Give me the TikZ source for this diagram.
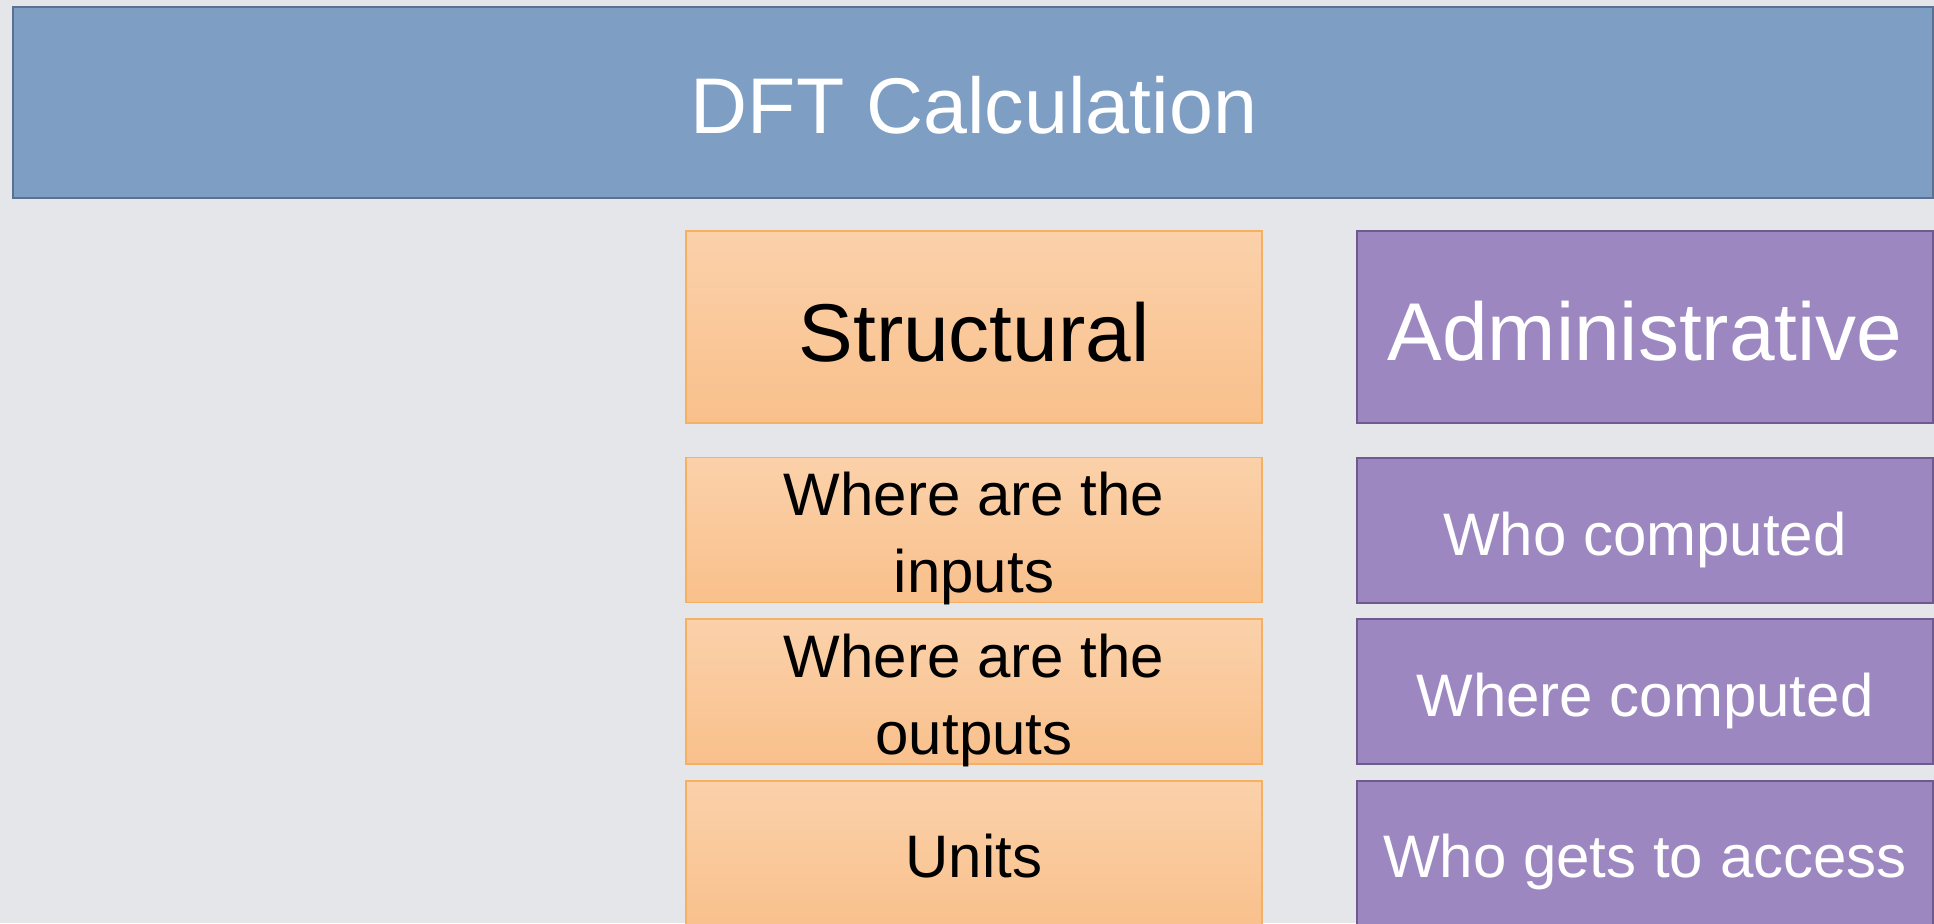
\documentclass[tikz,border=0pt]{standalone}
\usepackage{fontspec}
\setmainfont{Liberation Sans}
\definecolor{pagebg}{HTML}{E4E6EA}
\definecolor{headfill}{HTML}{7F9EC3}
\definecolor{headline}{HTML}{5B7192}
\definecolor{orangetop}{HTML}{FBD1AA}
\definecolor{orangebot}{HTML}{F9C08B}
\definecolor{orangeline}{HTML}{F5B064}
\definecolor{purplefill}{HTML}{9D87C0}
\definecolor{purpleline}{HTML}{6E5A8F}
\tikzset{
  headbox/.style={draw=headline, line width=2pt, fill=headfill, inner sep=0pt},
  structbox/.style={draw=orangeline, line width=1.2pt, top color=orangetop, bottom color=orangebot, inner sep=0pt, minimum width=576pt},
  adminbox/.style={draw=purpleline, line width=2pt, fill=purplefill, inner sep=0pt, minimum width=576pt},
  bigtext/.style={anchor=base, font=\fontsize{82}{98}\selectfont},
  rowtext/.style={anchor=base, font=\fontsize{60}{77}\selectfont, align=center},
}
\begin{document}
\begin{tikzpicture}[x=1pt, y=-1pt]
\useasboundingbox (0,0) rectangle (1934,923);
\fill[pagebg] (0,0) rectangle (1934,923);

% header bar
\node[headbox, minimum width=1920pt, minimum height=191pt] (head) at (973,102.5) {};
\node[anchor=base, font=\fontsize{79}{95}\selectfont, text=white] (headtxt) at (974,134) {DFT Calculation};

% structural column
\node[structbox, minimum height=192pt] (s1) at (974,327) {};
\node[structbox, minimum height=145pt] (s2) at (974,530) {};
\node[structbox, minimum height=145pt] (s3) at (974,691.5) {};
\node[structbox, minimum height=150pt] (s4) at (974,856) {};

% administrative column
\node[adminbox, minimum height=192pt] (a1) at (1645,327) {};
\node[adminbox, minimum height=145pt] (a2) at (1645,530) {};
\node[adminbox, minimum height=145pt] (a3) at (1645,691.5) {};
\node[adminbox, minimum height=150pt] (a4) at (1645,856) {};

% labels (two-line labels are placed by the baseline of their last line)
\node[bigtext] (s1t) at (974,361) {Structural};
\node[rowtext] (s2t) at (974,592) {Where are the\\inputs};
\node[rowtext] (s3t) at (974,754) {Where are the\\outputs};
\node[rowtext] (s4t) at (974,877) {Units};

\node[bigtext, text=white] (a1t) at (1645,360) {Administrative};
\node[rowtext, text=white] (a2t) at (1645,555) {Who computed};
\node[rowtext, text=white] (a3t) at (1645,716) {Where computed};
\node[rowtext, text=white] (a4t) at (1645,877) {Who gets to access};
\end{tikzpicture}
\end{document}
